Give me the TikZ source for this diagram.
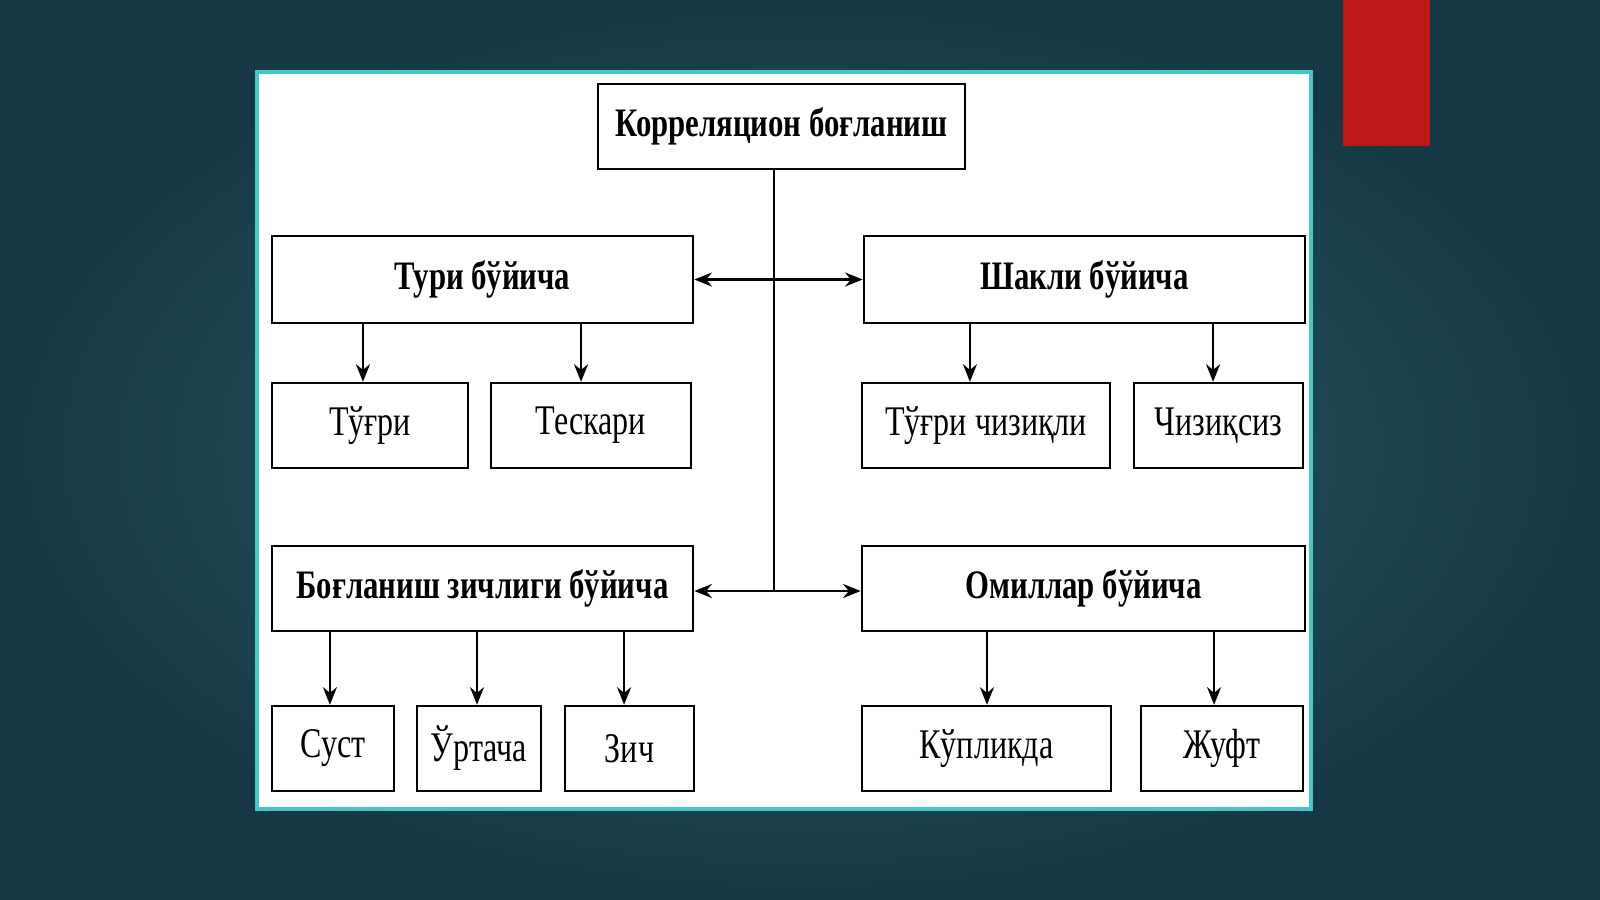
\documentclass[tikz,border=0pt]{standalone}
\usepackage{fontspec}
\setmainfont{Liberation Serif}[FakeStretch=0.76]
\usetikzlibrary{arrows.meta}
\definecolor{bgdark}{RGB}{22,56,70}
\definecolor{bglight}{RGB}{42,100,108}
\definecolor{panelrim}{RGB}{70,200,200}
\definecolor{tabred}{RGB}{190,25,25}
\tikzset{
	box/.style={draw=black, line width=0.7pt, fill=white, inner sep=0pt},
	head/.style={box, font=\fontsize{11.5}{14}\selectfont\bfseries},
	leaf/.style={box, font=\fontsize{12}{14}\selectfont},
	link/.style={-{Stealth[length=5pt,width=4pt]}, line width=0.6pt},
	both/.style={{Stealth[length=5pt,width=4pt]}-{Stealth[length=5pt,width=4pt]}, line width=0.6pt}
}
\newcommand{\down}[3]{\draw[link] ([xshift=#1cm]#2.south) -- ([xshift=#1cm]#2.south |- #3.north);}
\begin{document}
\begin{tikzpicture}[x=0.01cm,y=-0.01cm]
	\useasboundingbox (0,0) rectangle (1600,899);
	\shade[inner color=bglight, outer color=bgdark] (0,0) rectangle (1600,899);
	\fill[tabred] (1343,0) rectangle (1430,146);
	\draw[panelrim, line width=1pt, fill=white] (257,72) rectangle (1311,809);
	% top
	\node[head, minimum width=3.67cm, minimum height=0.85cm] (root) at (781.5,126.5) {Корреляцион боғланиш};
	% groups
	\node[head, minimum width=4.21cm, minimum height=0.87cm] (turi) at (482.5,279.5) {Тури бўйича};
	\node[head, minimum width=4.41cm, minimum height=0.87cm] (shakli) at (1084.5,279.5) {Шакли бўйича};
	\node[head, minimum width=4.21cm, minimum height=0.85cm] (zich) at (482.5,588.5) {Боғланиш зичлиги бўйича};
	\node[head, minimum width=4.43cm, minimum height=0.85cm] (omil) at (1083.5,588.5) {Омиллар бўйича};
	% leaves
	\node[leaf, minimum width=1.96cm, minimum height=0.85cm] (tugri) at (370,425.5) {Тўғри};
	\node[leaf, minimum width=2.00cm, minimum height=0.85cm] (teskari) at (591,425.5) {Тескари};
	\node[leaf, minimum width=2.48cm, minimum height=0.85cm] (chiziqli) at (986,425.5) {Тўғри чизиқли};
	\node[leaf, minimum width=1.69cm, minimum height=0.85cm] (chiziqsiz) at (1218.5,425.5) {Чизиқсиз};
	\node[leaf, minimum width=1.22cm, minimum height=0.85cm] (sust) at (333,748.5) {Суст};
	\node[leaf, minimum width=1.24cm, minimum height=0.85cm] (urtacha) at (479,748.5) {Ўртача};
	\node[leaf, minimum width=1.29cm, minimum height=0.85cm] (zichl) at (629.5,748.5) {Зич};
	\node[leaf, minimum width=2.49cm, minimum height=0.85cm] (kup) at (986.5,748.5) {Кўпликда};
	\node[leaf, minimum width=1.62cm, minimum height=0.85cm] (juft) at (1222,748.5) {Жуфт};
	% trunk
	\coordinate (j1) at (774,279.5);
	\coordinate (j2) at (774,591);
	\draw[line width=0.6pt] (root.south -| j1) -- (j2);
	\draw[both] (turi.east) -- (shakli.west);
	\draw[both] (zich.east |- j2) -- (omil.west |- j2);
	% down arrows
	\down{-1.195}{turi}{tugri}
	\down{0.985}{turi}{teskari}
	\down{-1.145}{shakli}{chiziqli}
	\down{1.285}{shakli}{chiziqsiz}
	\down{-1.525}{zich}{sust}
	\down{-0.055}{zich}{urtacha}
	\down{1.415}{zich}{zichl}
	\down{-0.965}{omil}{kup}
	\down{1.305}{omil}{juft}
\end{tikzpicture}
\end{document}
